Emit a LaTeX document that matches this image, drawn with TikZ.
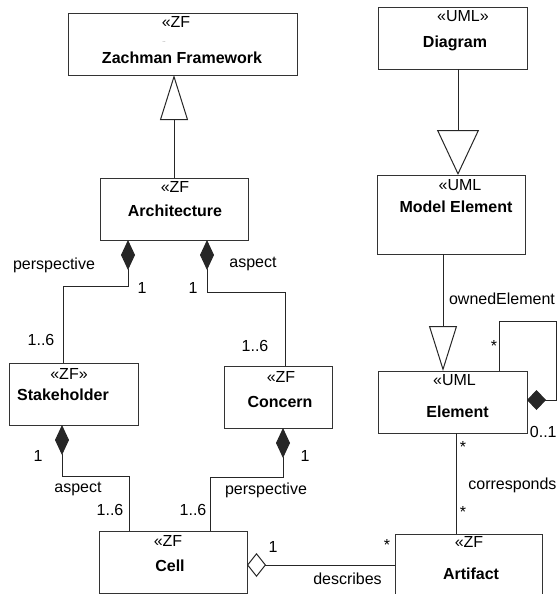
\documentclass[tikz,border=0pt]{standalone}
\usepackage{fontspec}
\setsansfont{Liberation Sans}
\usepackage{tikz}
\usetikzlibrary{arrows.meta,positioning,calc}

\begin{document}
\begin{tikzpicture}[x=0.5pt,y=-0.5pt,
        font=\sffamily\fontsize{8}{9}\selectfont,
        cls/.style={draw=black!80,line width=0.5pt,inner sep=0pt,outer sep=0pt},
        lbl/.style={inner sep=0pt,text height=6pt,text depth=1.5pt},
        cname/.style={lbl,font=\sffamily\bfseries\fontsize{8}{9}\selectfont},
        conn/.style={line width=0.5pt,draw=black!85},
        gen/.style={conn,-{Triangle[open,length=22.5pt,width=#1]}},
        gen/.default=14pt,
        comp/.style={conn,{Diamond[length=15pt,width=7pt]}-},
        agg/.style={conn,{Diamond[open,length=9.5pt,width=12pt]}-}]
        \useasboundingbox (0,0) rectangle (558,594);
        %\draw[step=50,gray!30,thin] (0,0) grid (558,594);

        % classes
        \node[cls,minimum width=114.5pt,minimum height=31pt] (zf) at (182.5,44) {};
        \node[lbl] (zfS) at (176,23) {«ZF};
        \node[lbl,font=\sffamily\fontsize{3}{3}\selectfont,text=black!60] (zfD) at (164,38) {..};
        \node[cname] (zfT) at (182,59) {Zachman Framework};

        \node[cls,minimum width=74.5pt,minimum height=31pt] (diag) at (452.5,38) {};
        \node[lbl] (diagS) at (463,17) {«UML»};
        \node[cname] (diagT) at (455,43) {Diagram};

        \node[cls,minimum width=74pt,minimum height=31pt] (arch) at (174,209) {};
        \node[lbl] (archS) at (175,188) {«ZF};
        \node[cname] (archT) at (175,212) {Architecture};

        \node[cls,minimum width=74pt,minimum height=39.5pt] (me) at (451,214.5) {};
        \node[lbl] (meS) at (460,186) {«UML};
        \node[cname] (meT) at (456,208) {Model Element};

        \node[cls,minimum width=64.5pt,minimum height=31pt] (sh) at (73.5,394) {};
        \node[lbl] (shS) at (69,375) {«ZF»};
        \node[cname] (shT) at (63,396) {Stakeholder};

        \node[cls,minimum width=54pt,minimum height=31pt] (con) at (278,397) {};
        \node[lbl] (conS) at (281,378) {«ZF};
        \node[cname] (conT) at (280,403) {Concern};

        \node[cls,minimum width=74.5pt,minimum height=31pt] (el) at (452.5,402) {};
        \node[lbl] (elS) at (454.5,381) {«UML};
        \node[cname] (elT) at (457.5,413) {Element};

        \node[cls,minimum width=74pt,minimum height=31pt] (cell) at (173,562) {};
        \node[lbl] (cellS) at (168,542) {«ZF};
        \node[cname] (cellT) at (170,567) {Cell};

        \node[cls,minimum width=73.5pt,minimum height=31pt] (art) at (468.5,565) {};
        \node[lbl] (artS) at (469,543) {«ZF};
        \node[cname] (artT) at (471,575) {Artifact};

        % generalisations
        \draw[gen] (arch.north) -- (arch.north |- zf.south);
        \draw[gen=21pt] ([xshift=2.75pt]diag.south) -- ([xshift=2.75pt]diag.south |- me.north);
        \draw[gen] ([xshift=-4pt]me.south) -- ([xshift=-4pt]me.south |- el.north);

        % compositions
        \draw[comp] ([xshift=-23pt]arch.south) -- ++(0,46) -| ([xshift=-5.25pt]sh.north);
        \draw[comp] ([xshift=16.5pt]arch.south) -- ++(0,52) -| ([xshift=3.5pt]con.north);
        \draw[comp] ([xshift=-5.75pt]sh.south) -- ++(0,51) -| ([xshift=-22pt]cell.north);
        \draw[comp] ([xshift=2.5pt]con.south) -- ++(0,49) -| ([xshift=18.5pt]cell.north);
        \draw[conn,{Diamond[length=9.5pt,width=10pt]}-] ([yshift=1pt]el.east) -- ++(29,0) -- ++(0,-79)
            -| ([xshift=23.25pt]el.north);

        \draw[agg] ([yshift=-1.5pt]cell.east) -- (art.west);
        \draw[conn] ([xshift=1.75pt]el.south) -- ([xshift=1.75pt]el.south |- art.north);

        % role names and multiplicities
        \node[lbl] (pArch) at (54,265) {perspective};
        \node[lbl] (mArchSh) at (142,289) {1};
        \node[lbl] (aArch) at (253,263) {aspect};
        \node[lbl] (mArchCon) at (193,289) {1};
        \node[lbl] (mSh) at (41,341) {1..6};
        \node[lbl] (mCon) at (255,347) {1..6};
        \node[lbl] (mShCell) at (38,457) {1};
        \node[lbl] (aCell) at (78,488) {aspect};
        \node[lbl] (mCellA) at (110,511) {1..6};
        \node[lbl] (mConCell) at (305,457) {1};
        \node[lbl] (pCell) at (266,490) {perspective};
        \node[lbl] (mCellP) at (193,511) {1..6};
        \node[lbl] (mDesc) at (273,548) {1};
        \node[lbl] (mArt) at (387,546) {*};
        \node[lbl] (desc) at (347.5,580) {describes};
        \node[lbl] (mElCor) at (463,448) {*};
        \node[lbl,anchor=west] (cor) at (468,485) {corresponds};
        \node[lbl] (mArtCor) at (463,513) {*};
        \node[lbl] (owned) at (502,300) {ownedElement};
        \node[lbl] (mOwn) at (494,347) {*};
        \node[lbl,anchor=east] (mOwner) at (557,433) {0..1};
\end{tikzpicture}
\end{document}
